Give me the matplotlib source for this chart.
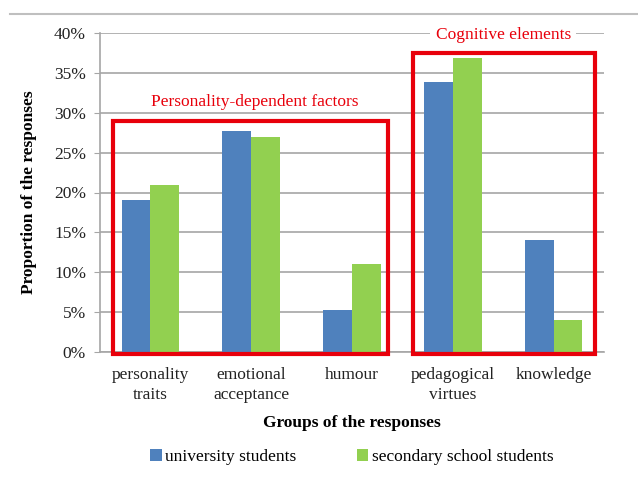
import numpy as np
import matplotlib.pyplot as plt
from matplotlib.patches import Rectangle
from matplotlib.lines import Line2D

plt.rcParams['font.family'] = ['Liberation Serif', 'DejaVu Serif']

categories = ['personality\ntraits', 'emotional\nacceptance', 'humour', 'pedagogical\nvirtues', 'knowledge']
university = [19.0, 27.7, 5.3, 33.9, 14.1]
secondary = [21.0, 26.9, 11.0, 36.9, 4.0]
series_names = ['university students', 'secondary school students']
yticks = [0, 5, 10, 15, 20, 25, 30, 35, 40]

blue = '#4f81bd'
green = '#92d050'
red = '#e8000b'
grid = '#a6a6a6'
fs = 12.5

fig = plt.figure(figsize=(6.38, 4.78), dpi=100)
ax = fig.add_axes([100 / 638, 1 - 352 / 478, 504 / 638, 319 / 478])

x = np.arange(len(categories))
w = 0.285
ax.bar(x - w / 2, university, w, color=blue, label=series_names[0], zorder=3)
ax.bar(x + w / 2, secondary, w, color=green, label=series_names[1], zorder=3)

ax.set_xlim(-0.5, len(categories) - 0.5)
ax.set_ylim(0, 40)
ax.set_yticks(yticks)
ax.set_yticklabels(['%d%%' % t for t in yticks], fontsize=fs, color='#222222')
ax.set_xticks(x)
ax.set_xticklabels(categories, fontsize=fs, color='#222222', linespacing=1.3)
ax.tick_params(axis='x', length=0, pad=11)
ax.tick_params(axis='y', length=4, color=grid, pad=6)
ax.yaxis.grid(True, color=grid, linewidth=1.2, zorder=0)
for s in ['top', 'right']:
    ax.spines[s].set_visible(False)
for s in ['left', 'bottom']:
    ax.spines[s].set_color(grid)
    ax.spines[s].set_linewidth(1.2)

ax.set_ylabel('Proportion of the responses', fontsize=fs, fontweight='bold', labelpad=12)
ax.set_xlabel('Groups of the responses', fontsize=fs, fontweight='bold', labelpad=9)

# red group boxes (in data coordinates)
box1 = Rectangle((-0.37, -0.2), 2.73, 29.2, fill=False, edgecolor=red, linewidth=3,
                 clip_on=False, zorder=5)
box2 = Rectangle((2.61, -0.2), 1.8, 37.7, fill=False, edgecolor=red, linewidth=3,
                 clip_on=False, zorder=5)
ax.add_patch(box1)
ax.add_patch(box2)
ax.text(1.04, 31.3, 'Personality-dependent factors', color=red, fontsize=fs,
        ha='center', va='center', zorder=6)
ax.text(3.5, 39.8, 'Cognitive elements', color=red, fontsize=fs, ha='center',
        va='center', zorder=6, clip_on=False,
        bbox=dict(facecolor='white', edgecolor='none', pad=4))

# thin line across the top of the figure
fig.add_artist(Line2D([10 / 638, 1], [1 - 14 / 478, 1 - 14 / 478], color='#bfbfbf',
                      linewidth=1.5, transform=fig.transFigure))

fig.legend(loc='center', bbox_to_anchor=(352 / 638, 1 - 457 / 478), ncol=2, frameon=False,
           fontsize=fs, handlelength=0.65, handleheight=0.65, handletextpad=0.2,
           columnspacing=3.5)

fig.savefig('out.png', dpi=100)
